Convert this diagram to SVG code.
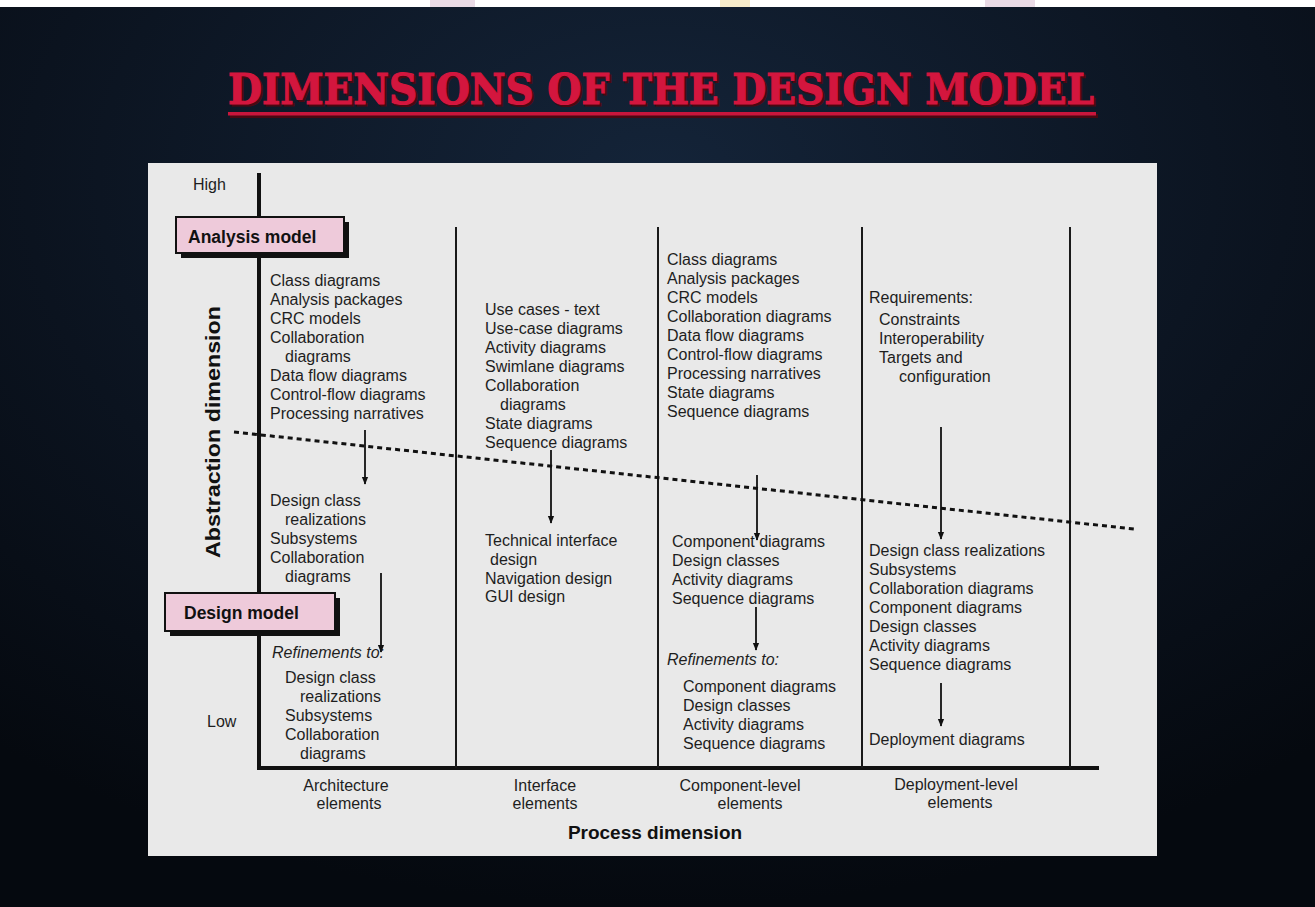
<svg xmlns="http://www.w3.org/2000/svg" width="1315" height="907" viewBox="0 0 1315 907">
<defs>
<radialGradient id="bg" cx="0.5" cy="0.2" r="0.8">
<stop offset="0" stop-color="#142439"/>
<stop offset="0.6" stop-color="#0b131f"/>
<stop offset="1" stop-color="#05090f"/>
</radialGradient>
<marker id="ah" viewBox="0 0 10 10" refX="9" refY="5" markerWidth="8" markerHeight="8" markerUnits="userSpaceOnUse" orient="auto">
<path d="M0,1 L10,5 L0,9 Z" fill="#111"/>
</marker>
<style>
.t{font-family:"Liberation Sans",Arial,sans-serif;font-size:16px;fill:#1e1e1e}
.i{font-style:italic}
.b{font-family:"Liberation Sans",Arial,sans-serif;font-weight:bold;fill:#111}
.c{text-anchor:middle}
.col{stroke:#1a1a1a;stroke-width:2;fill:none}
.axis{stroke:#111;stroke-width:4;fill:none}
.arr{stroke:#111;stroke-width:1.8;fill:none;marker-end:url(#ah)}
.box{fill:#eecada;stroke:#111;stroke-width:2}
.shadow{fill:#111}
.ttl{font-family:"DejaVu Serif",serif;font-weight:bold;font-size:43px;stroke-width:1.2}
</style>
</defs>
<rect x="0" y="0" width="1315" height="907" fill="url(#bg)"/>
<rect x="0" y="0" width="1315" height="7" fill="#ffffff"/>
<rect x="430" y="0" width="45" height="7" fill="#eadbe6"/>
<rect x="720" y="0" width="30" height="7" fill="#f6eccb"/>
<rect x="985" y="0" width="50" height="7" fill="#eadbe6"/>

<g id="title">
<text class="ttl" x="230" y="106" fill="#4a0812" stroke="#4a0812" textLength="866" lengthAdjust="spacingAndGlyphs">DIMENSIONS OF THE DESIGN MODEL</text>
<text class="ttl" x="228" y="104" fill="#d3163e" stroke="#d3163e" textLength="866" lengthAdjust="spacingAndGlyphs">DIMENSIONS OF THE DESIGN MODEL</text>
<rect x="230" y="114" width="868" height="4" fill="#4a0812"/>
<rect x="228" y="112" width="868" height="3.5" fill="#c8163c"/>
</g>

<rect id="panel" x="148" y="163" width="1009" height="693" fill="#e9e9e9"/>

<g id="connectors">
<line class="axis" x1="259" y1="173" x2="259" y2="770"/>
<line class="axis" x1="257" y1="768" x2="1099" y2="768"/>
<line class="col" x1="456" y1="227" x2="456" y2="768"/>
<line class="col" x1="658" y1="227" x2="658" y2="768"/>
<line class="col" x1="862" y1="227" x2="862" y2="768"/>
<line class="col" x1="1070" y1="227" x2="1070" y2="768"/>
<line x1="234" y1="432" x2="1134" y2="529" stroke="#111" stroke-width="3" stroke-dasharray="5,4"/>
<line class="arr" x1="365" y1="430" x2="365" y2="484"/>
<line class="arr" x1="381" y1="573" x2="381" y2="652"/>
<line class="arr" x1="551" y1="450" x2="551" y2="523"/>
<line class="arr" x1="757" y1="475" x2="757" y2="540"/>
<line class="arr" x1="756" y1="607" x2="756" y2="650"/>
<line class="arr" x1="941" y1="427" x2="941" y2="539"/>
<line class="arr" x1="941" y1="683" x2="941" y2="726"/>
</g>

<g id="analysis-model">
<rect class="shadow" x="181" y="222" width="168" height="36"/>
<rect class="box" x="176" y="217" width="168" height="36"/>
<text class="b" x="188" y="243" font-size="17.5">Analysis model</text>
</g>

<g id="design-model">
<rect class="shadow" x="170" y="598" width="170" height="38"/>
<rect class="box" x="165" y="593" width="170" height="38"/>
<text class="b" x="184" y="619" font-size="17.5">Design model</text>
</g>

<g id="axis-labels">
<text class="t" x="193" y="190">High</text>
<text class="t" x="207" y="727">Low</text>
<text class="b c" font-size="20" transform="translate(220,432) rotate(-90)" textLength="252" lengthAdjust="spacingAndGlyphs">Abstraction dimension</text>
<text class="b c" font-size="19" x="655" y="839">Process dimension</text>
</g>

<g id="architecture">
<text class="t" x="270" y="286">Class diagrams</text>
<text class="t" x="270" y="305">Analysis packages</text>
<text class="t" x="270" y="324">CRC models</text>
<text class="t" x="270" y="343">Collaboration</text>
<text class="t" x="285" y="362">diagrams</text>
<text class="t" x="270" y="381">Data flow diagrams</text>
<text class="t" x="270" y="400">Control-flow diagrams</text>
<text class="t" x="270" y="419">Processing narratives</text>
<text class="t" x="270" y="506">Design class</text>
<text class="t" x="285" y="525">realizations</text>
<text class="t" x="270" y="544">Subsystems</text>
<text class="t" x="270" y="563">Collaboration</text>
<text class="t" x="285" y="582">diagrams</text>
<text class="t i" x="272" y="658">Refinements to:</text>
<text class="t" x="285" y="683">Design class</text>
<text class="t" x="300" y="702">realizations</text>
<text class="t" x="285" y="721">Subsystems</text>
<text class="t" x="285" y="740">Collaboration</text>
<text class="t" x="300" y="759">diagrams</text>
<text class="t c" x="346" y="791">Architecture</text>
<text class="t c" x="349" y="809">elements</text>
</g>

<g id="interface">
<text class="t" x="485" y="315">Use cases - text</text>
<text class="t" x="485" y="334">Use-case diagrams</text>
<text class="t" x="485" y="353">Activity diagrams</text>
<text class="t" x="485" y="372">Swimlane diagrams</text>
<text class="t" x="485" y="391">Collaboration</text>
<text class="t" x="500" y="410">diagrams</text>
<text class="t" x="485" y="429">State diagrams</text>
<text class="t" x="485" y="448">Sequence diagrams</text>
<text class="t" x="485" y="546">Technical interface</text>
<text class="t" x="490" y="565">design</text>
<text class="t" x="485" y="584">Navigation design</text>
<text class="t" x="485" y="602">GUI design</text>
<text class="t c" x="545" y="791">Interface</text>
<text class="t c" x="545" y="809">elements</text>
</g>

<g id="component">
<text class="t" x="667" y="265">Class diagrams</text>
<text class="t" x="667" y="284">Analysis packages</text>
<text class="t" x="667" y="303">CRC models</text>
<text class="t" x="667" y="322">Collaboration diagrams</text>
<text class="t" x="667" y="341">Data flow diagrams</text>
<text class="t" x="667" y="360">Control-flow diagrams</text>
<text class="t" x="667" y="379">Processing narratives</text>
<text class="t" x="667" y="398">State diagrams</text>
<text class="t" x="667" y="417">Sequence diagrams</text>
<text class="t" x="672" y="547">Component diagrams</text>
<text class="t" x="672" y="566">Design classes</text>
<text class="t" x="672" y="585">Activity diagrams</text>
<text class="t" x="672" y="604">Sequence diagrams</text>
<text class="t i" x="667" y="665">Refinements to:</text>
<text class="t" x="683" y="692">Component diagrams</text>
<text class="t" x="683" y="711">Design classes</text>
<text class="t" x="683" y="730">Activity diagrams</text>
<text class="t" x="683" y="749">Sequence diagrams</text>
<text class="t c" x="740" y="791">Component-level</text>
<text class="t c" x="750" y="809">elements</text>
</g>

<g id="deployment">
<text class="t" x="869" y="303">Requirements:</text>
<text class="t" x="879" y="325">Constraints</text>
<text class="t" x="879" y="344">Interoperability</text>
<text class="t" x="879" y="363">Targets and</text>
<text class="t" x="899" y="382">configuration</text>
<text class="t" x="869" y="556">Design class realizations</text>
<text class="t" x="869" y="575">Subsystems</text>
<text class="t" x="869" y="594">Collaboration diagrams</text>
<text class="t" x="869" y="613">Component diagrams</text>
<text class="t" x="869" y="632">Design classes</text>
<text class="t" x="869" y="651">Activity diagrams</text>
<text class="t" x="869" y="670">Sequence diagrams</text>
<text class="t" x="869" y="745">Deployment diagrams</text>
<text class="t c" x="956" y="790">Deployment-level</text>
<text class="t c" x="960" y="808">elements</text>
</g>
</svg>
